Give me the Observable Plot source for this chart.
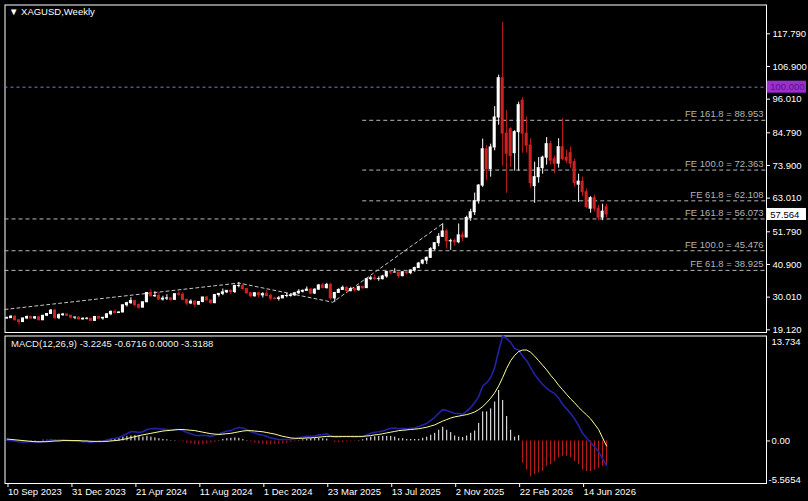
<!DOCTYPE html>
<html><head><meta charset="utf-8">
<script src="https://cdn.jsdelivr.net/npm/d3@7"></script>
<script src="https://cdn.jsdelivr.net/npm/@observablehq/plot@0.6"></script>
<style>
html,body{margin:0;padding:0;background:#000;}
#wrap{position:relative;width:808px;height:501px;background:#000;overflow:hidden;}
#wrap svg{position:absolute;left:0;}
#edgeTop{position:absolute;left:0;top:0;width:808px;height:2px;background:#8c8c8c;}
#edgeLeft{position:absolute;left:0;top:0;width:2px;height:501px;background:#8c8c8c;}
</style></head>
<body><div id="wrap"><div id="edgeTop"></div><div id="edgeLeft"></div></div>
<script>
// ---------- DATA (weekly XAGUSD, bar 0 = week of 10 Sep 2023) ----------
const opens = [22.9,23.0,23.5,22.3,21.7,22.9,23.4,22.9,23.3,22.3, 23.8,24.4,25.5,23.0,24.0,24.2,23.8,23.2,23.2,22.6,
 22.8,22.8,22.1,23.4,22.9,23.1,24.3,25.1,24.7,24.9, 27.3,28.0,28.7,27.4,26.5,28.3,31.4,30.3,30.4,29.2,
 29.5,29.6,29.1,31.0,30.8,29.1,27.9,28.5,27.5,28.4, 29.9,28.9,28.0,30.7,31.1,31.6,32.1,31.7,33.7,33.7,
 32.7,31.3,30.3,31.3,30.6,31.0,30.4,29.5,29.4,29.6, 30.4,30.4,30.6,31.3,31.8,32.1,32.5,31.2,32.5,33.9,
 33.0,34.1,29.6,31.4,32.4,33.1,32.0,32.7,32.3,33.4, 33.0,36.0,36.3,36.0,36.0,36.9,38.4,38.2,38.2,37.0,
 38.3,38.0,38.9,39.7,41.2,42.2,43.1,46.0,48.0,50.1, 51.9,48.6,48.7,48.3,50.6,49.9,56.4,58.3,62.0,67.2,
 79.3,72.7,79.9,89.9,103.0,84.5,86.0,78.0,85.0,95.5, 84.5,80.5,67.0,70.0,73.0,76.5,81.0,76.0,74.5,80.0,
 76.5,78.0,75.0,67.5,68.5,65.0,59.5,63.0,59.5,56.5, 60.0];
const highs = [23.4,23.8,23.8,22.4,23.0,23.7,23.6,23.5,23.5,23.9, 24.5,25.9,25.9,24.4,24.6,24.6,23.9,23.4,23.3,23.1,
 23.2,22.9,23.5,23.4,23.3,24.4,25.4,25.8,25.1,27.3, 28.3,29.8,28.9,27.7,28.4,31.5,32.5,31.8,31.5,30.3,
 30.8,29.9,31.0,31.8,31.5,29.3,29.1,28.9,28.5,29.9, 30.2,29.0,30.9,31.2,32.7,32.2,32.4,34.0,34.9,34.5,
 32.8,31.5,31.5,31.6,31.5,32.3,31.0,30.0,30.2,30.6, 31.3,31.0,31.6,32.5,32.4,33.4,32.9,32.8,34.2,34.6,
 34.6,34.6,31.6,32.8,33.7,33.5,33.3,33.1,33.7,33.7, 36.0,36.9,37.3,36.8,37.3,38.5,38.6,39.5,38.3,38.5,
 38.6,39.0,40.0,41.6,42.5,43.4,46.5,48.0,51.2,54.5, 52.5,49.3,49.4,54.4,51.8,57.0,59.3,64.7,67.5,82.7,
 80.5,81.0,93.5,104.0,121.6,92.2,86.5,85.5,95.0,96.5, 90.0,82.8,75.0,76.5,77.0,83.2,82.0,77.0,82.8,89.5,
 79.0,80.0,76.0,71.0,70.0,66.0,63.5,64.0,60.5,61.0, 61.0];
const lows = [22.6,22.9,22.1,20.7,21.6,22.5,22.6,22.5,22.1,22.2, 23.5,24.3,22.5,22.5,23.6,23.6,22.7,22.5,22.3,22.3,
 22.4,21.9,21.9,22.5,22.3,22.9,23.8,24.4,24.6,24.8, 26.7,27.6,26.7,26.0,26.5,28.2,30.0,29.9,29.0,28.7,
 28.9,28.6,29.0,30.3,28.9,27.1,27.5,26.5,27.2,28.1, 28.8,27.7,27.8,30.0,30.5,31.2,30.8,31.2,33.1,32.5,
 30.9,29.7,30.0,29.7,29.7,30.3,28.8,29.0,28.7,29.5, 29.8,30.0,30.2,30.9,31.4,32.0,30.8,30.9,32.3,32.8,
 32.7,28.9,28.3,31.4,32.4,31.6,31.8,31.6,32.0,32.6, 32.9,35.5,35.6,35.3,35.7,36.3,37.5,38.1,36.2,36.8,
 37.4,37.5,38.3,39.6,40.8,40.9,43.0,45.5,46.8,49.9, 46.0,45.6,46.9,47.8,48.5,49.8,55.3,57.2,61.0,66.6,
 68.8,70.0,78.8,87.3,73.7,64.6,73.2,72.0,72.0,78.0, 78.0,66.3,61.3,68.0,71.0,74.0,74.0,71.2,73.0,75.5,
 74.5,73.0,66.7,61.6,63.5,59.5,58.0,58.5,55.5,55.5, 56.5];
const closes = [23.0,23.5,22.3,21.7,22.9,23.4,22.9,23.3,22.3,23.8, 24.4,25.5,23.0,24.0,24.2,23.8,23.2,23.2,22.6,22.8,
 22.8,22.1,23.4,22.9,23.1,24.3,25.1,24.7,24.9,27.3, 28.0,28.7,27.4,26.5,28.3,31.4,30.3,30.4,29.2,29.5,
 29.6,29.1,31.0,30.8,29.1,27.9,28.5,27.5,28.4,29.9, 28.9,28.0,30.7,31.1,31.6,32.1,31.7,33.7,33.7,32.7,
 31.3,30.3,31.3,30.6,31.0,30.4,29.5,29.4,29.6,30.4, 30.4,30.6,31.3,31.8,32.1,32.5,31.2,32.5,33.9,33.0,
 34.1,29.6,31.4,32.4,33.1,32.0,32.7,32.3,33.4,33.0, 36.0,36.3,36.0,36.0,36.9,38.4,38.2,38.2,37.0,38.3,
 38.0,38.9,39.7,41.2,42.2,43.1,46.0,48.0,50.1,51.9, 48.6,48.7,48.3,50.6,49.9,56.4,58.3,62.0,67.2,79.3,
 72.7,79.9,89.9,103.0,84.5,77.8,77.0,85.0,94.0,84.5, 80.5,68.0,70.0,73.0,76.5,81.0,75.5,74.5,80.0,76.0,
 75.5,74.5,68.0,68.5,65.0,60.0,63.0,59.5,56.5,58.5, 57.564];

// MACD(12,26,9) panel, read per bar
const macdMain = [0.1,0.05,0,-0.1,-0.15,-0.1,-0.1,-0.1,-0.15,-0.1, 0,0.15,0.1,0.1,0.15,0.1,0.05,0,-0.05,-0.1,
 -0.1,-0.2,-0.1,-0.1,-0.05,0.1,0.3,0.35,0.45,0.7, 0.95,1.2,1.2,1.1,1.2,1.5,1.6,1.65,1.6,1.55,
 1.5,1.4,1.5,1.5,1.35,1.1,0.95,0.75,0.7,0.75, 0.7,0.6,0.75,0.9,1.1,1.3,1.35,1.6,1.75,1.7,
 1.5,1.2,1.05,0.85,0.75,0.6,0.4,0.3,0.2,0.2, 0.2,0.2,0.3,0.4,0.5,0.6,0.6,0.65,0.8,0.85,
 0.95,0.6,0.5,0.5,0.55,0.55,0.55,0.5,0.55,0.55, 0.8,1.0,1.15,1.2,1.3,1.5,1.65,1.7,1.6,1.65,
 1.6,1.65,1.7,1.9,2.1,2.3,2.7,3.1,3.6,4.1, 4.0,3.8,3.6,3.6,3.5,3.9,4.4,5.0,5.8,7.2,
 7.6,8.3,9.6,11.8,13.734,13.4,12.9,12.1,11.9,11.1, 10.5,9.6,8.7,8.0,7.4,6.9,6.5,6.2,5.6,4.8,
 4.2,3.6,2.9,2.0,1.0,0.4,-0.2,-0.8,-1.4,-2.3, -3.2245];
const macdSignal = [0.25,0.2,0.15,0.1,0.05,0,-0.05,-0.1,-0.1,-0.1, -0.1,-0.05,0,0,0.05,0.05,0.05,0.05,0.05,0,
 0,-0.05,-0.05,-0.05,-0.05,-0.05,0,0.05,0.1,0.2, 0.3,0.45,0.55,0.7,0.8,0.9,1.0,1.1,1.2,1.3,
 1.35,1.4,1.45,1.5,1.5,1.45,1.4,1.35,1.25,1.15, 1.05,0.95,0.9,0.85,0.9,0.95,1.0,1.1,1.2,1.3,
 1.35,1.35,1.3,1.25,1.2,1.1,1.0,0.9,0.75,0.6, 0.5,0.4,0.35,0.35,0.35,0.4,0.4,0.45,0.5,0.55,
 0.6,0.6,0.6,0.6,0.6,0.6,0.6,0.6,0.6,0.6, 0.65,0.7,0.8,0.85,0.95,1.05,1.15,1.25,1.35,1.4,
 1.45,1.5,1.55,1.6,1.7,1.8,1.95,2.1,2.35,2.6, 2.8,3.0,3.15,3.25,3.35,3.45,3.6,3.8,4.1,4.5,
 5.0,5.6,6.3,7.2,8.3,9.5,10.5,11.2,11.7,11.9, 11.9,11.6,11.1,10.5,9.9,9.3,8.6,8.0,7.3,6.7,
 6.1,5.5,5.0,4.4,3.9,3.4,2.9,2.2,1.5,0.4, -0.6716];
const macdHist = [0.05,0,-0.05,-0.1,-0.1,0,0.05,0.05,0,0.1,0.1, 0.2,0.1,0.1,0.15,
 0.05,-0.05,-0.1,-0.1,-0.05,-0.05,-0.1,0,-0.05,0,0.1,
 0.2,0.3,0.4,0.5,0.6,0.65,0.7,0.6,0.5,0.6,0.5,0.4,0.3,0.2,0.15,0.05,
 0.05,-0.05,-0.15,-0.3,-0.4,-0.5,-0.55,-0.5,-0.4,-0.3,-0.2,0.05,0.2,
 0.3,0.35,0.4,0.35,0.2,0.05,
 -0.15,-0.3,-0.4,-0.45,-0.5,-0.5,-0.5,-0.45,-0.4,-0.3,-0.2,-0.1,0.05,
 0.15,0.25,0.3,0.3,0.35,0.3,0.25,
 0.0,-0.2,-0.25,-0.2,-0.15,-0.1,-0.05,0.05,0.15,
 0.35,0.5,0.55,0.6,
 0.6,0.6,0.6,0.5,0.3,0.3,0.2,0.2,0.2,0.2,0.35,0.5,0.75,1.0,1.4,1.8,1.4,1.1,0.65,0.5,0.45,0.65,1.0,1.3,2.3,3.8,3.8,4.2,5.1,6.6,5.3,3.2,1.4,0.5,0.7,
 -2.9,-3.8,-4.7,-4.4,-4.2,-4.0,-3.3,-3.1,-2.7,-2.2,-2.0,-2.0,-2.2,-2.7,-3.1,-3.8,-4.0,-4.0,-3.8,-3.6,-3.3,-3.3188];

// axis ticks / labels
const priceTicks = [117.79,106.9,96.01,84.79,73.9,63.01,51.79,40.9,30.01,19.12];
const dateTickBars = [0,16,32,48,64,80,96,112,128,144];
const dateLabels = ["10 Sep 2023","31 Dec 2023","21 Apr 2024","11 Aug 2024","1 Dec 2024","23 Mar 2025","13 Jul 2025","2 Nov 2025","22 Feb 2026","14 Jun 2026"];
const macdScaleLabels = ["13.734", "0.00", "-5.5654"];

// Fibonacci expansion objects and horizontal line
const feLevels = [
  {label:"FE 161.8 = 88.953", value:88.953, fromBar:89},
  {label:"FE 100.0 = 72.363", value:72.363, fromBar:89},
  {label:"FE 61.8 = 62.108", value:62.108, fromBar:89},
  {label:"FE 161.8 = 56.073", value:56.073, fromBar:-0.5},
  {label:"FE 100.0 = 45.476", value:45.476, fromBar:-0.5},
  {label:"FE 61.8 = 38.925", value:38.925, fromBar:-0.5}
];
const fePathBars = [-0.5, 58, 81.5, 109];
const fePathPrices = [25.9, 34.7, 28.3, 54.5];
const hLine = 100.000;
const lastPrice = 57.564;
const symbolTitle = "XAGUSD,Weekly";
const macdHeader = "MACD(12,26,9) -3.2245 -0.6716 0.0000 -3.3188";

// ---------- BUILD ----------
const bars = closes.map((c, i) => ({i, o: opens[i], h: highs[i], l: lows[i], c}));
const UP = "#ffffff", DN = "#d02020";
const font = "Liberation Sans, Arial, sans-serif";
const W = 808;
const xDomain = [-0.5, 190];

const main = Plot.plot({
  width: W, height: 334,
  marginLeft: 4.5, marginRight: 42, marginTop: 4.5, marginBottom: 2,
  style: {background: "#000", color: "#fff", fontFamily: font, fontSize: "9.5px"},
  x: {domain: xDomain, axis: null, label: null},
  y: {domain: [18.22, 127.39], axis: null, label: null},
  marks: [
    Plot.frame({stroke: "#fff"}),
    Plot.ruleY([hLine], {stroke: "#8a7ab8", strokeDasharray: "3,3"}),
    Plot.ruleY(feLevels, {y: "value", x1: "fromBar", x2: xDomain[1], stroke: "#b8b8b8", strokeDasharray: "4,3"}),
    Plot.text(feLevels, {y: "value", x: xDomain[1], text: "label", textAnchor: "end", dx: -3, dy: -6, fill: "#b4b4b4", fontSize: 9.5}),
    Plot.line(fePathBars.map((b, k) => ({b, p: fePathPrices[k]})), {x: "b", y: "p", stroke: "#c8c8c8", strokeDasharray: "3,3", strokeWidth: 1}),
    Plot.ruleX(bars, {x: "i", y1: "l", y2: "h", stroke: d => d.c >= d.o ? UP : DN, strokeWidth: 1}),
    Plot.rect(bars, {x1: d => d.i - 0.38, x2: d => d.i + 0.38, y1: "o", y2: "c", fill: d => d.c >= d.o ? UP : DN, insetTop: -0.5, insetBottom: -0.5}),
    Plot.axisY(priceTicks, {anchor: "right", label: null, tickSize: 3, tickPadding: 3, tickFormat: d => d.toFixed(3), fontSize: 9.5, stroke: "#fff"}),
    // price labels on the axis
    Plot.rect([hLine], {y1: d => d, y2: d => d, x1: 190.2, x2: 200, fill: "#9a2fd0", insetTop: -6, insetBottom: -6}),
    Plot.text([hLine], {y: d => d, x: 190.2, text: d => d.toFixed(3), textAnchor: "start", dx: 3, fill: "#5a0f86", fontSize: 9.5}),
    Plot.rect([lastPrice], {y1: d => d, y2: d => d, x1: 190.2, x2: 200, fill: "#fff", insetTop: -6, insetBottom: -6}),
    Plot.text([lastPrice], {y: d => d, x: 190.2, text: d => d.toFixed(3), textAnchor: "start", dx: 3, fill: "#000", fontSize: 9.5}),
    Plot.text(["\u25BC " + symbolTitle], {frameAnchor: "top-left", dx: 4, dy: 3, fill: "#fff", fontSize: 9.5, lineAnchor: "top"})
  ]
});
main.style.top = "0px";
document.getElementById("wrap").appendChild(main);

const hist = macdHist.map((v, i) => ({i, v}));
const lineM = macdMain.map((v, i) => ({i, v}));
const lineS = macdSignal.map((v, i) => ({i, v}));

const sub = Plot.plot({
  width: W, height: 168,
  marginLeft: 4.5, marginRight: 42, marginTop: 2.5, marginBottom: 18,
  style: {background: "#000", color: "#fff", fontFamily: font, fontSize: "9.5px"},
  x: {domain: xDomain, axis: null, label: null},
  y: {domain: [-5.5654, 13.734], axis: null, label: null},
  marks: [
    Plot.frame({stroke: "#fff"}),
    Plot.ruleX(hist, {x: "i", y1: 0, y2: "v", stroke: d => d.v >= 0 ? "#ffffff" : "#d02020", strokeWidth: 1}),
    Plot.line(lineM, {x: "i", y: "v", stroke: "#2222a6", strokeWidth: 1.6}),
    Plot.line(lineS, {x: "i", y: "v", stroke: "#ffff9a", strokeWidth: 1}),
    Plot.text([macdHeader], {frameAnchor: "top-left", dx: 6, dy: 4, fill: "#f0f0f0", fontSize: 9.5, lineAnchor: "top"}),
    Plot.ruleY([0], {x1: xDomain[1], x2: 191, stroke: "#fff"}),
    Plot.text([macdScaleLabels[1]], {y: 0, frameAnchor: "right", dx: 5, textAnchor: "start", fill: "#fff", fontSize: 9.5}),
    Plot.text([macdScaleLabels[0]], {frameAnchor: "top-right", dx: 5, dy: 2, textAnchor: "start", lineAnchor: "top", fill: "#fff", fontSize: 9.5}),
    Plot.text([macdScaleLabels[2]], {frameAnchor: "bottom-right", dx: 2, dy: -1, textAnchor: "start", lineAnchor: "bottom", fill: "#fff", fontSize: 9.5}),
    Plot.axisX(dateTickBars, {anchor: "bottom", label: null, tickSize: 4, tickPadding: 1, textAnchor: "start", dx: 1, tickFormat: (d, k) => dateLabels[k], fontSize: 9.5, stroke: "#fff"})
  ]
});
sub.style.top = "333px";
document.getElementById("wrap").appendChild(sub);
</script>
</body></html>
